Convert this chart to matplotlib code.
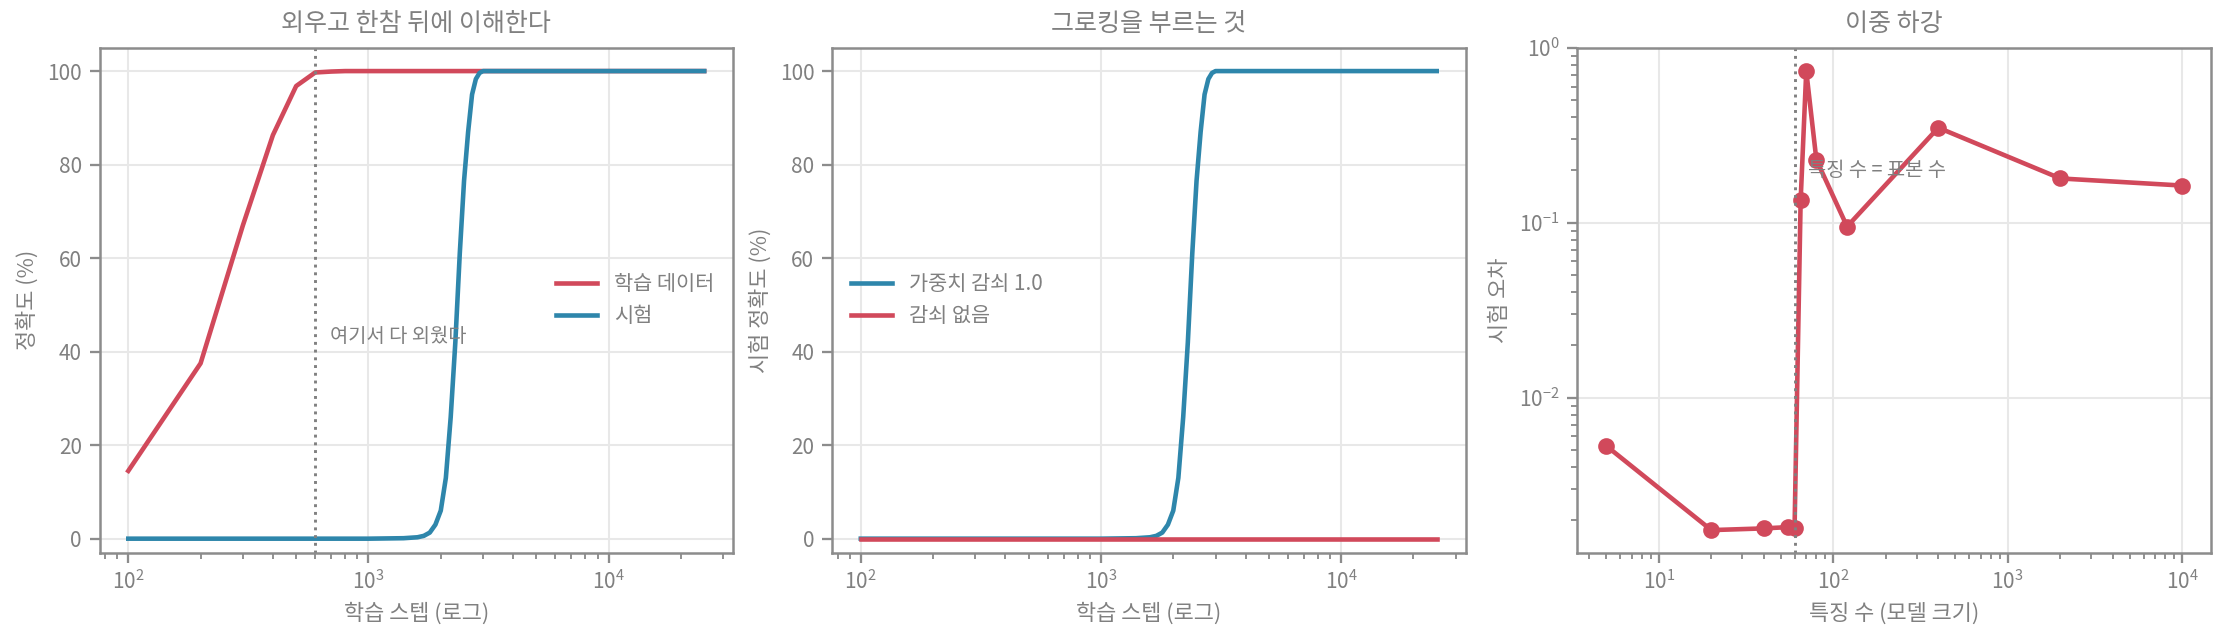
import matplotlib
matplotlib.use("Agg")
import matplotlib.pyplot as plt

plt.rcParams['font.family'] = ['Noto Sans CJK KR', 'DejaVu Sans']
plt.rcParams['font.weight'] = 'light'
plt.rcParams['axes.titleweight'] = 'light'
plt.rcParams['axes.labelweight'] = 'light'
plt.rcParams['axes.unicode_minus'] = False

GRAY = "#808080"
RED = "#d1495b"
BLUE = "#2e86ab"

plt.rcParams.update({
    "text.color": GRAY,
    "axes.labelcolor": GRAY,
    "axes.edgecolor": "#8c8c8c",
    "axes.titlecolor": GRAY,
    "xtick.color": "#8c8c8c",
    "ytick.color": "#8c8c8c",
    "xtick.labelcolor": GRAY,
    "ytick.labelcolor": GRAY,
    "axes.linewidth": 1.2,
})

# panel 1/2 : training steps
train_steps = [100, 200, 300, 400, 500, 600, 700, 800, 1000, 25000]
train_acc = [14.5, 37.5, 67, 86.3, 96.8, 99.7, 99.9, 100, 100, 100]

test_steps = [100, 1000, 1400, 1600, 1700, 1800, 1900, 2000, 2100, 2200, 2300,
              2400, 2500, 2600, 2700, 2800, 2900, 3000, 25000]
test_acc = [0, 0, 0.1, 0.3, 0.6, 1.3, 3.0, 6.0, 13, 26, 42,
            61, 76.5, 87, 95, 98.3, 99.6, 100, 100]

nodecay_steps = [100, 25000]
nodecay_acc = [0, 0]

memorized_step = 600

# panel 3 : double descent
n_features = [5, 20, 40, 55, 60, 65, 70, 80, 120, 400, 2000, 10000]
test_error = [0.0053, 0.00175, 0.00179, 0.00182, 0.00181, 0.134, 0.736,
              0.229, 0.095, 0.349, 0.179, 0.163]
n_samples = 60

fig = plt.figure(figsize=(2226 / 150, 642 / 150), dpi=150)
W, H = 2226, 642
bottom = (H - 552.7) / H
height = (552.7 - 47.7) / H
width = 633.5 / W
ax1 = fig.add_axes([99.5 / W, bottom, width, height])
ax2 = fig.add_axes([832 / W, bottom, width, height])
ax3 = fig.add_axes([1577.5 / W, bottom, width, height])

for ax in (ax1, ax2, ax3):
    ax.grid(True, color="#e8e8e8", linewidth=1)
    ax.set_axisbelow(True)
    ax.tick_params(labelsize=10, which="major", length=5, width=1.1)
    ax.tick_params(which="minor", length=3, width=0.9)

# Figure 1
ax1.plot(train_steps, train_acc, color=RED, lw=2.2, label="학습 데이터")
ax1.plot(test_steps, test_acc, color=BLUE, lw=2.2, label="시험")
ax1.axvline(memorized_step, color=GRAY, ls=":", lw=1.4)
ax1.text(690, 43.3, "여기서 다 외웠다", fontsize=9.5, va="center", color=GRAY)
ax1.set_xscale("log")
ax1.set_ylim(-3, 105)
ax1.set_title("외우고 한참 뒤에 이해한다", fontsize=12, pad=8)
ax1.set_xlabel("학습 스텝 (로그)", fontsize=10.5)
ax1.set_ylabel("정확도 (%)", fontsize=10.5)
ax1.legend(loc="center right", frameon=False, fontsize=10)

# Figure 2
ax2.plot(test_steps, test_acc, color=BLUE, lw=2.2, label="가중치 감쇠 1.0")
ax2.plot(nodecay_steps, nodecay_acc, color=RED, lw=2.2, label="감쇠 없음")
ax2.set_xscale("log")
ax2.set_xlim(ax1.get_xlim())
ax2.set_ylim(-3, 105)
ax2.set_title("그로킹을 부르는 것", fontsize=12, pad=8)
ax2.set_xlabel("학습 스텝 (로그)", fontsize=10.5)
ax2.set_ylabel("시험 정확도 (%)", fontsize=10.5)
ax2.legend(loc="center left", frameon=False, fontsize=10)

# Figure 3
ax3.plot(n_features, test_error, color=RED, lw=2.2, marker="o", markersize=7)
ax3.axvline(n_samples, color=GRAY, ls=":", lw=1.4)
ax3.text(72, 0.2, "특징 수 = 표본 수", fontsize=9.5, va="center", color=GRAY)
ax3.set_xscale("log")
ax3.set_yscale("log")
ax3.set_ylim(0.0013, 1.0)
ax3.set_title("이중 하강", fontsize=12, pad=8)
ax3.set_xlabel("특징 수 (모델 크기)", fontsize=10.5)
ax3.set_ylabel("시험 오차", fontsize=10.5)

fig.savefig("out.png", dpi=150)
